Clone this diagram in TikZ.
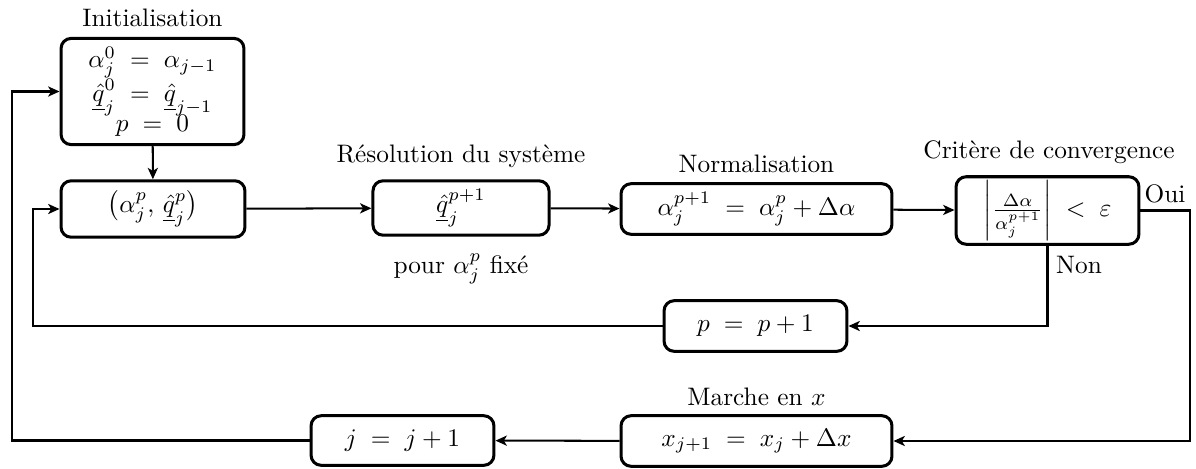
\documentclass[tikz,border=0pt]{standalone}
\usetikzlibrary{arrows.meta}
\begin{document}
\begin{tikzpicture}[x=0.3953pt,y=-0.3953pt,
  box/.style={draw,very thick,rounded corners=4pt,align=center,inner sep=0pt},
  lbl/.style={inner sep=0pt},
  conn/.style={thick,-{Stealth[length=4.5pt,width=4pt,inset=1.2pt]}}]
\useasboundingbox (0,0) rectangle (1196,468);
\node[box,minimum width=72.3pt,minimum height=42pt] (init) at (152.5,91.5)
  {$\alpha_j^0 \;=\; \alpha_{j-1}$\\[-0.5pt]$\underline{\hat{q}}_j^0 \;=\; \underline{\hat{q}}_{j-1}$\\[-1.5pt]$p \;=\; 0$};
\node[lbl] (tinit) at (152.5,18) {Initialisation};
\node[box,minimum width=72.7pt,minimum height=22.3pt] (b1) at (153,209)
  {$\bigl(\alpha_j^p,\, \underline{\hat{q}}_j^p\bigr)$};
\node[box,minimum width=69.6pt,minimum height=21.5pt] (b2) at (461,208)
  {$\underline{\hat{q}}_j^{p+1}$};
\node[lbl] (t2) at (461,156) {Résolution du système};
\node[lbl] (t2b) at (461,269) {pour $\alpha_j^p$ fixé};
\node[box,minimum width=107.1pt,minimum height=20pt] (b3) at (756.5,209)
  {$\alpha_j^{p+1} \;=\; \alpha_j^p + \Delta\alpha$};
\node[lbl] (t3) at (756.5,164) {Normalisation};
\node[box,minimum width=72.3pt,minimum height=26.7pt] (b4) at (1047.5,210.5)
  {$\left|\frac{\Delta\alpha}{\alpha_j^{p+1}}\right| \;<\; \varepsilon$};
\node[lbl] (t4) at (1049,152) {Critère de convergence};
\node[lbl] (oui) at (1165,194) {Oui};
\node[lbl] (non) at (1079,265) {Non};
\node[box,minimum width=72.3pt,minimum height=20pt] (b5) at (755.5,326)
  {$p \;=\; p+1$};
\node[box,minimum width=107.1pt,minimum height=20pt] (b6) at (756.5,441)
  {$x_{j+1} \;=\; x_j + \Delta x$};
\node[lbl] (t6) at (756.5,397) {Marche en $x$};
\node[box,minimum width=72.3pt,minimum height=19.6pt] (b7) at (402.5,440.5)
  {$j \;=\; j+1$};
\coordinate (cr) at (1190,0);
\coordinate (cl) at (12,0);
\coordinate (ci) at (33,0);
\draw[conn] (init) -- (b1);
\draw[conn] (b1) -- (b2);
\draw[conn] (b2) -- (b3);
\draw[conn] (b3) -- (b4);
\draw[conn] (b4.east) -- (b4.east -| cr) -- (b6.east -| cr) -- (b6.east);
\draw[conn] (b4.south) -- (b4.south |- b5.east) -- (b5.east);
\draw[conn] (b5.west) -- (b5.west -| ci) -- (b1.west -| ci) -- (b1.west);
\draw[conn] (b6) -- (b7);
\draw[conn] (b7.west) -- (b7.west -| cl) -- (init.west -| cl) -- (init.west);
\end{tikzpicture}
\end{document}
